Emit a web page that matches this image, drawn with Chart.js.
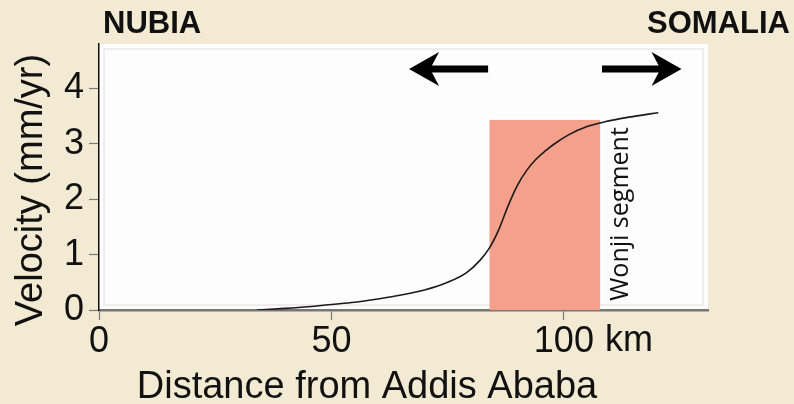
<!DOCTYPE html>
<html>
<head>
<meta charset="utf-8">
<script src="https://cdn.jsdelivr.net/npm/chart.js@4.4.0/dist/chart.umd.min.js"></script>
<style>
    body { margin: 0; background: #f3ead4; }
    #grafico { display: block; }
</style>
</head>
<body>
<canvas id="grafico" width="794" height="404"></canvas>
<script>
// velocity profile across the rift
const distanceKm = [34, 40, 45, 50, 55, 60, 65, 70, 75, 79, 82, 84, 86, 88, 90, 92, 94, 96, 98, 101, 105, 109, 114, 120.3]
const velocity = [0, 0.03, 0.06, 0.1, 0.14, 0.2, 0.27, 0.36, 0.5, 0.67, 0.9, 1.12, 1.45, 1.88, 2.25, 2.52, 2.72, 2.87, 3.0, 3.16, 3.31, 3.4, 3.48, 3.56]

// Wonji segment box [start km, end km, top velocity]
const wonjiSegment = [84, 107.8, 3.43]

// arrows: [tail km, tip km, velocity level]
const arrowNubia = [83.7, 66.7, 4.35]
const arrowSomalia = [108.2, 125.3, 4.35]

const xTicks = [0, 50, 100]
const yTicks = [0, 1, 2, 3, 4]
const plateLabels = ['NUBIA', 'SOMALIA']
const xTitle = 'Distance from Addis Ababa'
const yTitle = 'Velocity (mm/yr)'

const fonte = '"Liberation Sans", Arial, Helvetica, sans-serif';

const desenharSeta = (ctx, x1, x2, y) => {
    const dir = x2 > x1 ? 1 : -1;
    ctx.save();
    ctx.strokeStyle = '#000';
    ctx.fillStyle = '#000';
    ctx.lineWidth = 7;
    ctx.beginPath();
    ctx.moveTo(x1, y);
    ctx.lineTo(x2 - dir * 18, y);
    ctx.stroke();
    ctx.beginPath();
    ctx.moveTo(x2, y);
    ctx.lineTo(x2 - dir * 30, y - 17);
    ctx.lineTo(x2 - dir * 21, y);
    ctx.lineTo(x2 - dir * 30, y + 17);
    ctx.closePath();
    ctx.fill();
    ctx.restore();
}

const extrasPlugin = {
    id: 'extras',
    beforeDraw(chart) {
        const { ctx, chartArea } = chart;
        ctx.save();
        ctx.fillStyle = '#fdfdfd';
        ctx.fillRect(chartArea.left, chartArea.top, chartArea.right - chartArea.left, chartArea.bottom - chartArea.top);
        ctx.strokeStyle = '#ededed';
        ctx.lineWidth = 2;
        ctx.strokeRect(chartArea.left + 5, chartArea.top + 5, chartArea.right - chartArea.left - 10, chartArea.bottom - chartArea.top - 10);
        ctx.restore();
    },
    beforeDatasetsDraw(chart) {
        const { ctx, scales } = chart;
        const x = scales.x, y = scales.y;
        const x1 = x.getPixelForValue(wonjiSegment[0]);
        const x2 = x.getPixelForValue(wonjiSegment[1]);
        const yt = y.getPixelForValue(wonjiSegment[2]);
        const yb = y.getPixelForValue(0);
        ctx.save();
        ctx.fillStyle = '#f5a08b';
        ctx.fillRect(x1, yt, x2 - x1, yb - yt);

        // label next to the box
        ctx.translate(x2 + 28, (yt + yb) / 2 - 1);
        ctx.rotate(-Math.PI / 2);
        ctx.fillStyle = '#111';
        ctx.font = '25px "Open Sans", sans-serif';
        ctx.textAlign = 'center';
        ctx.textBaseline = 'alphabetic';
        ctx.fillText('Wonji segment', 0, 0);
        ctx.restore();
    },
    afterDraw(chart) {
        const { ctx, scales, chartArea } = chart;
        const x = scales.x, y = scales.y;

        desenharSeta(ctx, x.getPixelForValue(arrowNubia[0]), x.getPixelForValue(arrowNubia[1]), y.getPixelForValue(arrowNubia[2]));
        desenharSeta(ctx, x.getPixelForValue(arrowSomalia[0]), x.getPixelForValue(arrowSomalia[1]), y.getPixelForValue(arrowSomalia[2]));

        ctx.save();
        ctx.fillStyle = '#111';
        ctx.font = `bold 31px ${fonte}`;
        ctx.textBaseline = 'alphabetic';
        ctx.textAlign = 'left';
        ctx.fillText(plateLabels[0], chartArea.left + 4, 33);
        ctx.textAlign = 'right';
        ctx.fillText(plateLabels[1], chart.width - 4, 33);

        // unit after the last x tick
        ctx.font = `36px ${fonte}`;
        ctx.textAlign = 'left';
        ctx.textBaseline = 'middle';
        ctx.fillText('km', x.getPixelForValue(100) + 41, 341);

        // axis titles
        ctx.font = `38px ${fonte}`;
        ctx.textAlign = 'center';
        ctx.textBaseline = 'alphabetic';
        ctx.fillText(xTitle, 367, 398);

        ctx.translate(42, 190);
        ctx.rotate(-Math.PI / 2);
        ctx.fillText(yTitle, 0, 0);
        ctx.restore();
    }
}

const ctx = document.getElementById('grafico').getContext('2d');
new Chart(ctx, {
    type: 'line',
    data: {
        datasets: [{
            data: distanceKm.map((d, i) => ({ x: d, y: velocity[i] })),
            borderColor: '#1a1a1a',
            borderWidth: 1.6,
            pointRadius: 0,
            cubicInterpolationMode: 'monotone',
            fill: false
        }]
    },
    options: {
        responsive: false,
        animation: false,
        layout: { padding: { top: 44, right: 86, left: 0, bottom: 0 } },
        plugins: {
            legend: { display: false },
            tooltip: { enabled: false }
        },
        scales: {
            x: {
                type: 'linear',
                min: 0,
                max: 131,
                afterFit: (scale) => { scale.height = 94; },
                afterBuildTicks: (scale) => { scale.ticks = xTicks.map(v => ({ value: v })); },
                ticks: {
                    font: { family: fonte, size: 36 },
                    color: '#111',
                    padding: 0,
                    maxRotation: 0,
                    callback: (v) => v
                },
                grid: { drawOnChartArea: false, drawTicks: true, tickLength: 10, tickColor: '#777', tickWidth: 1.2 },
                border: { color: '#777', width: 2.5 }
            },
            y: {
                min: 0,
                max: 4.8,
                afterFit: (scale) => { scale.width = 99; },
                ticks: {
                    stepSize: 0.5,
                    includeBounds: false,
                    font: { family: fonte, size: 36 },
                    color: '#111',
                    padding: 5,
                    callback: (v) => yTicks.includes(v) ? v : ''
                },
                grid: { drawOnChartArea: false, drawTicks: true, tickLength: 10, tickColor: '#777', tickWidth: 1.2 },
                border: { color: '#111', width: 1.5 }
            }
        }
    },
    plugins: [extrasPlugin]
});
</script>
</body>
</html>
